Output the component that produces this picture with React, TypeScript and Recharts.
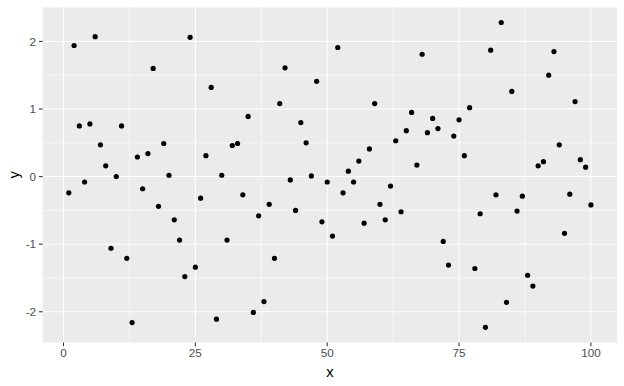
import { CartesianGrid, Scatter, ScatterChart, XAxis, YAxis } from "recharts";

// y values, x is 1..100
const yValues = [
  -0.24, 1.94, 0.75, -0.08, 0.78, 2.07, 0.47, 0.16, -1.06, 0.0,
  0.75, -1.21, -2.16, 0.29, -0.18, 0.34, 1.6, -0.44, 0.49, 0.02,
  -0.64, -0.94, -1.48, 2.06, -1.34, -0.32, 0.31, 1.32, -2.11, 0.02,
  -0.94, 0.46, 0.49, -0.27, 0.89, -2.01, -0.58, -1.85, -0.41, -1.21,
  1.08, 1.61, -0.05, -0.5, 0.8, 0.5, 0.01, 1.41, -0.67, -0.08,
  -0.88, 1.91, -0.24, 0.08, -0.08, 0.23, -0.69, 0.41, 1.08, -0.41,
  -0.64, -0.14, 0.53, -0.52, 0.68, 0.95, 0.17, 1.81, 0.65, 0.86,
  0.71, -0.96, -1.31, 0.6, 0.84, 0.31, 1.02, -1.36, -0.55, -2.23,
  1.87, -0.27, 2.28, -1.86, 1.26, -0.51, -0.29, -1.46, -1.62, 0.16,
  0.22, 1.5, 1.85, 0.47, -0.84, -0.26, 1.11, 0.25, 0.14, -0.42,
];

const xTicks = [0, 25, 50, 75, 100];
const yTicks = [-2, -1, 0, 1, 2];
const xMinor = [12.5, 37.5, 62.5, 87.5];
const yMinor = [-1.5, -0.5, 0.5, 1.5];

const points = yValues.map((y, i) => ({ x: i + 1, y }));

const font = "'Liberation Sans', Arial, sans-serif";
const tickStyle = { fill: "#4D4D4D", fontSize: 11.7, fontFamily: font };

export default function App() {
  return (
    <div style={{ position: "absolute", left: 0, top: 0, background: "#fff" }}>
      <ScatterChart width={624} height={386} margin={{ top: 7.3, right: 7, bottom: 0, left: 0 }}>
        <CartesianGrid
          fill="#EBEBEB"
          stroke="#FFFFFF"
          strokeWidth={0.53}
          horizontalValues={yMinor}
          verticalValues={xMinor}
        />
        <CartesianGrid
          stroke="#FFFFFF"
          strokeWidth={1.07}
          horizontalValues={yTicks}
          verticalValues={xTicks}
        />
        <XAxis
          type="number"
          dataKey="x"
          domain={[-3.95, 104.95]}
          ticks={xTicks}
          allowDataOverflow
          height={43.5}
          axisLine={false}
          tickSize={3.7}
          tickMargin={2.9}
          tickLine={{ stroke: "#333333", strokeWidth: 1.07 }}
          tick={tickStyle}
          label={{
            content: (props: any) => {
              const vb = props.viewBox;
              return (
                <text
                  x={vb.x + vb.width / 2}
                  y={vb.y + vb.height - 9}
                  textAnchor="middle"
                  fontSize={14.7}
                  fontFamily={font}
                  fill="#000"
                >
                  x
                </text>
              );
            },
          }}
        />
        <YAxis
          type="number"
          dataKey="y"
          domain={[-2.455, 2.505]}
          ticks={yTicks}
          allowDataOverflow
          width={42.7}
          axisLine={false}
          tickSize={3.7}
          tickMargin={2.9}
          tickLine={{ stroke: "#333333", strokeWidth: 1.07 }}
          tick={tickStyle}
          label={{
            content: (props: any) => {
              const vb = props.viewBox;
              const cx = vb.x + 19;
              const cy = vb.y + vb.height / 2;
              return (
                <text
                  x={cx}
                  y={cy}
                  transform={`rotate(-90 ${cx} ${cy})`}
                  textAnchor="middle"
                  fontSize={14.7}
                  fontFamily={font}
                  fill="#000"
                >
                  y
                </text>
              );
            },
          }}
        />
        <Scatter
          data={points}
          isAnimationActive={false}
          shape={(p: any) => <circle cx={p.cx} cy={p.cy} r={2.6} fill="#000" />}
        />
      </ScatterChart>
    </div>
  );
}
